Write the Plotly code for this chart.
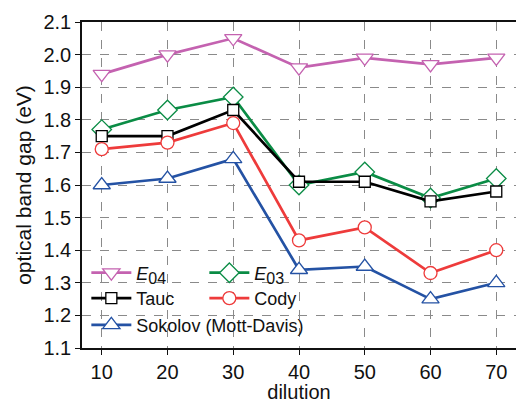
import plotly.graph_objects as go

dilution = [10, 20, 30, 40, 50, 60, 70]
e04 = [1.94, 2.00, 2.05, 1.96, 1.99, 1.97, 1.99]
e03 = [1.77, 1.83, 1.87, 1.60, 1.64, 1.56, 1.62]
tauc = [1.75, 1.75, 1.83, 1.61, 1.61, 1.55, 1.58]
cody = [1.71, 1.73, 1.79, 1.43, 1.47, 1.33, 1.40]
sokolov = [1.60, 1.62, 1.68, 1.34, 1.35, 1.25, 1.30]

series = [
    ("<i>E</i><sub><span style='font-size:16px'>04</span></sub>", e04, "#C462B0", "triangle-down", 15, "legend"),
    ("<i>E</i><sub><span style='font-size:16px'>03</span></sub>", e03, "#0A8C45", "diamond", 15, "legend"),
    ("Tauc", tauc, "#000000", "square", 11, "legend2"),
    ("Cody", cody, "#EE3B3B", "circle", 13, "legend2"),
    ("Sokolov (Mott-Davis)", sokolov, "#2452A4", "triangle-up", 15, "legend3"),
]

fig = go.Figure()
for name, ys, col, sym, sz, lg in series:
    fig.add_trace(go.Scatter(
        x=dilution, y=ys, name=name, mode="lines+markers",
        line=dict(color=col, width=2.7),
        marker=dict(symbol=sym, size=sz, color="white", line=dict(color=col, width=1.3)),
        legend=lg,
    ))

font = "Liberation Sans, Arial, sans-serif"
leg_common = dict(orientation="h", bgcolor="rgba(0,0,0,0)", font=dict(family=font, size=18, color="#111"),
                  xanchor="left", yanchor="middle", tracegroupgap=0, itemwidth=40)
fig.update_layout(
    width=516, height=403,
    margin=dict(l=82, r=0, t=22, b=55),
    paper_bgcolor="white", plot_bgcolor="white",
    font=dict(family=font, size=20, color="#111"),
    showlegend=True,
    legend=dict(x=0.01, y=0.23, entrywidth=63, **leg_common),
    legend2=dict(x=0.01, y=0.152, entrywidth=63, **leg_common),
    legend3=dict(x=0.01, y=0.07, **leg_common),
    xaxis=dict(
        range=[7, 73], tickvals=dilution, showline=True, linecolor="#111", linewidth=1.5,
        mirror=True, ticks="outside", ticklen=5, tickcolor="#111",
        showgrid=True, gridcolor="#8a8a8a", griddash="dash", gridwidth=1,
        title=dict(text="dilution", font=dict(size=20), standoff=11),
        tickfont=dict(size=20), zeroline=False, automargin=False,
    ),
    yaxis=dict(
        range=[1.1, 2.1], dtick=0.1, tickformat=".1f", showline=True, linecolor="#111", linewidth=1.5,
        ticks="outside", ticklen=5, tickcolor="#111",
        showgrid=True, gridcolor="#8a8a8a", griddash="dash", gridwidth=1,
        title=dict(text="optical band gap (eV)", font=dict(size=21), standoff=6),
        tickfont=dict(size=20), zeroline=False, automargin=False,
    ),
)
fig.write_html("out.html")
